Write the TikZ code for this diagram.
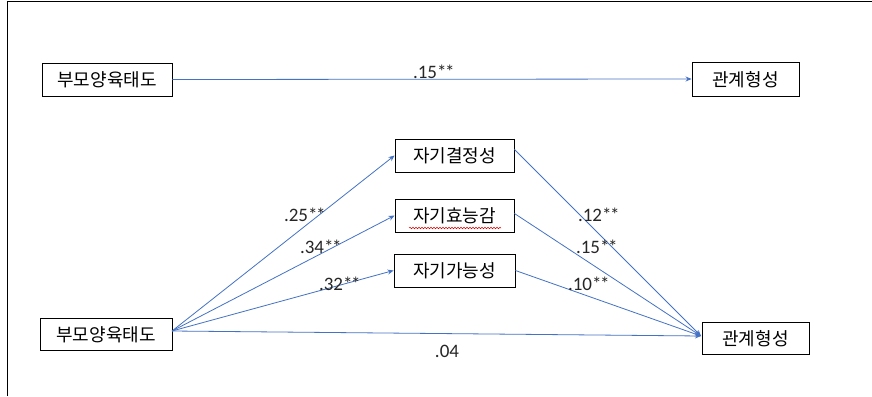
\documentclass[tikz,border=0pt]{standalone}
\usepackage{fontspec}
\newfontfamily\kr{Noto Sans CJK KR}
\setmainfont{Carlito}
\usetikzlibrary{arrows.meta,decorations.pathmorphing}
\definecolor{pathblue}{RGB}{68,114,196}
\newcommand{\myst}{*\kern-1.5pt}
\tikzset{
  box/.style={draw=black, line width=0.9pt, fill=white, inner sep=0pt, font=\kr\fontsize{18}{20}\selectfont, text depth=0pt},
  path/.style={draw=pathblue, line width=0.8pt, -{Stealth[length=6pt,width=5pt]}},
  coef/.style={font=\fontsize{19}{21}\selectfont, inner sep=0pt, text=black!85}
}
\begin{document}
\begin{tikzpicture}[x=1pt,y=-1pt]
\useasboundingbox (0,0) rectangle (872,396);
\fill[white] (0,0) rectangle (872,396);
\draw[line width=1pt] (7,396) -- (7,2) -- (872,2);
% top model
\node[box, minimum width=130pt, minimum height=33pt] (pL1) at (107,79.5) {부모양육태도};
\node[box, minimum width=107pt, minimum height=34pt] (pR1) at (745.5,79) {관계형성};
\draw[path] (pL1.east) -- (pR1.west);
\node[coef] (c0) at (433,72) {.15\myst\myst};
% bottom model
\node[box, minimum width=132pt, minimum height=32pt] (pL2) at (106,334) {부모양육태도};
\node[box, minimum width=107pt, minimum height=32pt] (pR2) at (755.5,338) {관계형성};
\node[box, minimum width=119pt, minimum height=33pt] (m1) at (454.5,155.5) {자기결정성};
\node[box, minimum width=119pt, minimum height=33pt] (m2) at (454.5,215.5) {자기효능감};
\node[box, minimum width=121pt, minimum height=33pt] (m3) at (454.5,270.5) {자기가능성};
\coordinate (wl) at (409,228);
\coordinate (wr) at (501,228);
\draw[red!85!black, line width=0.5pt, decorate, decoration={snake, amplitude=0.8pt, segment length=3pt}] (wl) -- (wr);
\coordinate (src) at (172,331);
\coordinate (dst) at (701,336);
\draw[path] (src) -- (m1.west);
\draw[path] (src) -- (m2.west);
\draw[path] (src) -- (m3.west);
\draw[path] (src) -- (dst);
\draw[path] ([yshift=6pt]m1.east) -- (dst);
\draw[path] ([yshift=2pt]m2.east) -- (dst);
\draw[path] (m3.east) -- (dst);
\node[coef] (a1) at (304,215) {.25\myst\myst};
\node[coef] (a2) at (320,247) {.34\myst\myst};
\node[coef] (a3) at (339,284) {.32\myst\myst};
\node[coef] (b1) at (598,215) {.12\myst\myst};
\node[coef] (b2) at (596,247) {.15\myst\myst};
\node[coef] (b3) at (588,284) {.10\myst\myst};
\node[coef] (c4) at (447,351) {.04};
\end{tikzpicture}
\end{document}
